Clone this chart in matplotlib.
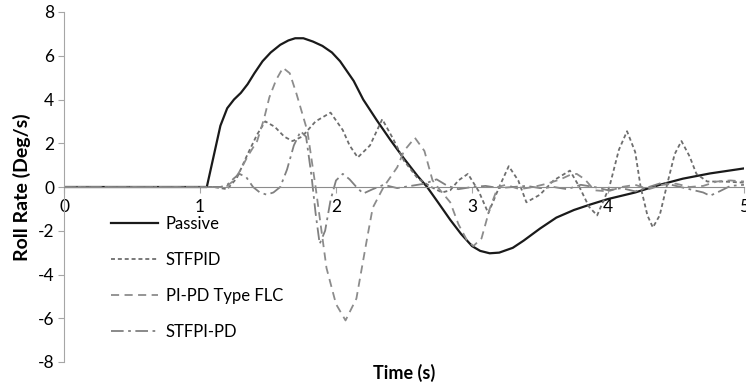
import numpy as np
import matplotlib
matplotlib.use("Agg")
import matplotlib.pyplot as plt

plt.rcParams['font.family'] = ['Lato', 'DejaVu Sans']
plt.rcParams['axes.unicode_minus'] = False

# Roll rate responses (deg/s) against time (s)
t_passive = [0, 1.05, 1.1, 1.15, 1.2, 1.25, 1.3, 1.35, 1.4, 1.46, 1.52, 1.59, 1.65, 1.7,
             1.76, 1.83, 1.9, 1.97, 2.03, 2.08, 2.13, 2.2, 2.3, 2.4, 2.5, 2.6, 2.67, 2.75,
             2.84, 2.92, 3.0, 3.06, 3.13, 3.2, 3.3, 3.38, 3.5, 3.62, 3.75, 3.87, 4.0, 4.2,
             4.38, 4.55, 4.75, 5.0]
v_passive = [0, 0, 1.4, 2.8, 3.6, 4.0, 4.3, 4.7, 5.2, 5.75, 6.15, 6.5, 6.7, 6.8,
             6.8, 6.65, 6.45, 6.15, 5.75, 5.3, 4.85, 4.0, 3.05, 2.15, 1.3, 0.5, 0, -0.7,
             -1.5, -2.15, -2.7, -2.92, -3.03, -3.0, -2.78, -2.45, -1.9, -1.4, -1.05, -0.8, -0.55, -0.25,
             0.1, 0.38, 0.62, 0.85]

t_stfpid = [0, 1.1, 1.2, 1.27, 1.35, 1.42, 1.48, 1.55, 1.62, 1.68, 1.75, 1.85, 1.96, 2.05,
            2.1, 2.16, 2.25, 2.34, 2.42, 2.5, 2.6, 2.7, 2.78, 2.84, 2.9, 2.97, 3.05, 3.12,
            3.2, 3.27, 3.34, 3.4, 3.5, 3.6, 3.72, 3.79, 3.86, 3.92, 4.01, 4.08, 4.14, 4.2,
            4.24, 4.29, 4.33, 4.38, 4.43, 4.49, 4.54, 4.6, 4.65, 4.73, 4.85, 5.0]
v_stfpid = [0, 0, -0.1, 0.4, 1.5, 2.4, 3.0, 2.75, 2.3, 2.1, 2.3, 3.0, 3.4, 2.6,
            1.9, 1.35, 1.9, 3.1, 2.2, 1.2, 0.4, 0.0, -0.25, -0.15, 0.3, 0.6, -0.2, -1.2,
            0.0, 0.95, 0.3, -0.7, -0.35, 0.3, 0.75, 0.0, -0.9, -1.3, 0.0, 1.7, 2.55, 1.6,
            0.0, -1.3, -1.85, -1.3, 0.0, 1.5, 2.1, 1.4, 0.6, 0.25, 0.25, 0.2]

t_flc = [0, 1.15, 1.2, 1.25, 1.3, 1.35, 1.42, 1.47, 1.51, 1.56, 1.61, 1.66, 1.71, 1.75,
         1.79, 1.85, 1.93, 2.0, 2.07, 2.15, 2.23, 2.27, 2.35, 2.45, 2.5, 2.58, 2.65, 2.71,
         2.76, 2.84, 2.9, 2.96, 3.01, 3.07, 3.13, 3.19, 3.25, 3.35, 3.45, 3.55, 3.65, 3.72,
         3.77, 3.83, 3.9, 4.0, 4.1, 4.2, 4.3, 4.4, 4.5, 4.6, 4.7, 4.8, 4.9, 5.0]
v_flc = [0, 0, 0.05, 0.3, 0.8, 1.4, 2.1, 3.1, 4.1, 4.9, 5.45, 5.2, 4.25, 3.4,
         2.55, 0, -3.7, -5.35, -6.1, -5.1, -2.3, -0.95, 0, 0.9, 1.65, 2.25, 1.65, 0.3,
         -0.1, -0.7, -1.7, -2.4, -2.7, -2.35, -1.0, 0, 0.1, -0.1, 0.0, 0.15, 0.35, 0.55,
         0.6, 0.35, -0.15, -0.2, 0.0, 0.1, -0.1, 0.1, 0.15, 0.0, 0.05, 0.25, 0.3, 0.25]

t_stfpipd = [0, 1.15, 1.2, 1.25, 1.29, 1.34, 1.39, 1.44, 1.49, 1.54, 1.59, 1.64, 1.69, 1.74,
             1.78, 1.82, 1.85, 1.88, 1.92, 1.96, 2.0, 2.05, 2.1, 2.15, 2.2, 2.27, 2.35, 2.45,
             2.55, 2.65, 2.74, 2.82, 2.9, 3.0, 3.1, 3.2, 3.3, 3.4, 3.5, 3.6, 3.7, 3.8,
             3.9, 4.0, 4.1, 4.2, 4.3, 4.4, 4.5, 4.6, 4.7, 4.75, 4.82, 4.9, 5.0]
v_stfpipd = [0, 0, 0.1, 0.4, 0.6, 0.45, 0.0, -0.25, -0.35, -0.25, 0.0, 0.8, 1.9, 2.55,
             2.3, 0.5, -1.2, -2.6, -2.0, -0.6, 0.3, 0.6, 0.35, 0.0, -0.3, -0.1, 0.1, -0.05,
             0.05, 0.15, 0.35, 0.05, -0.1, 0.0, 0.05, -0.05, 0.0, 0.05, -0.05, 0.0, -0.1, 0.1,
             0.0, -0.15, -0.05, -0.2, 0.0, 0.2, 0.05, -0.1, -0.25, -0.4, -0.2, 0.05, 0.1]

x_ticks = [0, 1, 2, 3, 4, 5]
y_ticks = [-8, -6, -4, -2, 0, 2, 4, 6, 8]

fig = plt.figure(figsize=(7.46, 3.84), dpi=100)
ax = fig.add_axes([64 / 746, 22 / 384, 680 / 746, 350 / 384])

ax.plot(t_passive, v_passive, color='#1a1a1a', lw=1.6, label='Passive')
ax.plot(t_stfpid, v_stfpid, color='#6e6e6e', lw=1.3, dashes=(2.2, 1.6), label='STFPID')
ax.plot(t_flc, v_flc, color='#8c8c8c', lw=1.3, dashes=(4.5, 3.0), label='PI-PD Type FLC')
ax.plot(t_stfpipd, v_stfpipd, color='#808080', lw=1.3, dashes=(7, 2.5, 1.5, 2.5), label='STFPI-PD')

ax.set_xlim(0, 5)
ax.set_ylim(-8, 8)
ax.set_xticks(x_ticks)
ax.set_yticks(y_ticks)

# x axis sits on the zero line, only the left spine is drawn
ax.spines['bottom'].set_position(('data', 0))
ax.spines['bottom'].set_color('#8c8c8c')
ax.spines['left'].set_color('#a6a6a6')
ax.spines['top'].set_visible(False)
ax.spines['right'].set_visible(False)
ax.tick_params(axis='both', labelsize=12.5, colors='#a6a6a6', labelcolor='black',
               length=4, width=0.8)
ax.tick_params(axis='x', pad=5)
ax.tick_params(axis='y', pad=3)

ax.set_ylabel('Roll Rate (Deg/s)', fontsize=14, fontweight='bold', labelpad=5)
ax.set_xlabel('Time (s)', fontsize=13, fontweight='bold')
ax.xaxis.set_label_coords(0.5, -0.004)

ax.legend(loc='upper left', bbox_to_anchor=(0.069, 0.418), frameon=False,
          fontsize=12, handlelength=2.8, handletextpad=0.5, labelspacing=1.2,
          borderpad=0, borderaxespad=0)

fig.savefig('out.png', dpi=100)
